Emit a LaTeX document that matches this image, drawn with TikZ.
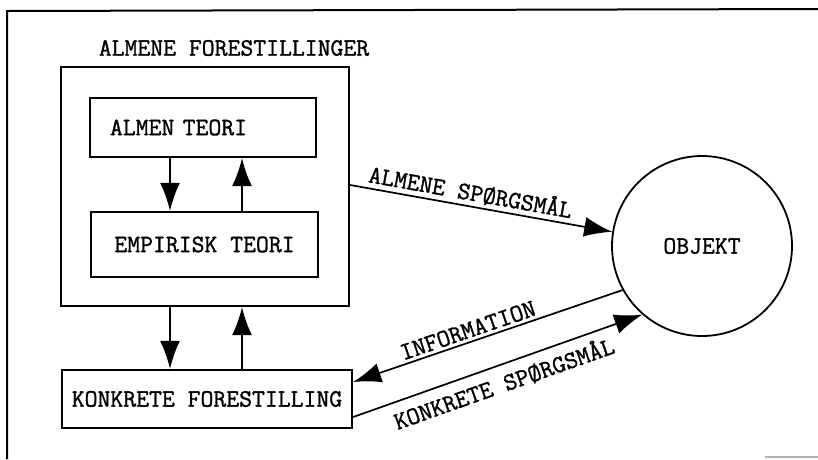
\documentclass[tikz,border=0pt]{standalone}
\usepackage{fontspec}
\newfontfamily\tw{Latin Modern Mono}[FakeBold=1.2]
\usetikzlibrary{arrows.meta,calc}
\tikzset{
  lbl/.style={font=\tw\fontsize{25}{28}\selectfont, inner sep=3pt},
  boxstyle/.style={draw, line width=2.3pt, lbl},
  arr/.style={line width=1.7pt, -{Latex[length=28pt,width=20pt]}},
  larr/.style={line width=1.7pt, {Latex[length=28pt,width=20pt]}-},
}
\begin{document}
\begin{tikzpicture}[x=1pt,y=-1pt]
\useasboundingbox (0,0) rectangle (818,459);
% frame
\draw[line width=2pt] (7,459) -- (7,11) -- (818,9);
\draw[gray!60, line width=1.2pt] (765,457) -- (818,457);
% title
\node[lbl] (title) at (234,48) {ALMENE FORESTILLINGER};
% boxes
\node[boxstyle, minimum width=288pt, minimum height=239pt] (almene) at (205,186.5) {};
\node[boxstyle, minimum height=59pt, inner xsep=20pt, text width=186pt, align=left] (almen) at (203,127.5) {ALMEN TEORI};
\node[boxstyle, minimum width=227pt, minimum height=65pt] (empirisk) at (204.5,244.5) {EMPIRISK TEORI};
\node[boxstyle, minimum width=290pt, minimum height=58pt] (konkret) at (207,399) {KONKRETE FORESTILLING};
\node[draw, circle, line width=1.8pt, minimum size=180pt, lbl] (objekt) at (702,246) {OBJEKT};
% inner vertical arrows
\draw[arr] (almen.south -| 170,0) -- (empirisk.north -| 170,0);
\draw[arr] (empirisk.north -| 242,0) -- (almen.south -| 242,0);
\draw[arr] (almene.south -| 170,0) -- (konkret.north -| 170,0);
\draw[arr] (konkret.north -| 242,0) -- (almene.south -| 242,0);
% diagonal arrows
\draw[arr] ([yshift=1.5pt]almene.east) -- node[lbl, sloped, above, pos=0.45] {ALMENE SPØRGSMÅL} (objekt.171);
\draw[larr] ([yshift=17pt]konkret.east) -- node[lbl, sloped, above, pos=0.44] {INFORMATION} (objekt.209);
\draw[arr] ([yshift=-18pt]konkret.east) -- node[lbl, sloped, below=4pt, pos=0.5] {KONKRETE SPØRGSMÅL} (objekt.229);
\end{tikzpicture}
\end{document}
